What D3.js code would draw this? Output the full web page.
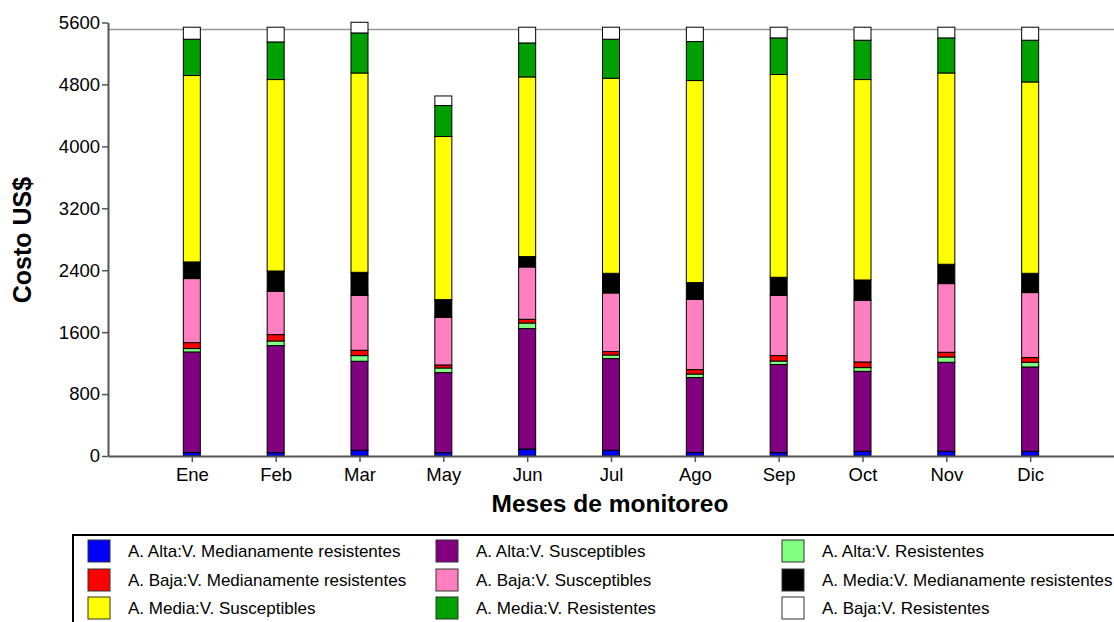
<!DOCTYPE html>
<html>
<head>
<meta charset="utf-8">
<script src="https://cdn.jsdelivr.net/npm/d3@7"></script>
<style>
  body { margin: 0; background: #fff; }
  text { font-family: "Liberation Sans", Arial, sans-serif; }
</style>
</head>
<body>
<script>
// months on the x axis
var meses = ["Ene", "Feb", "Mar", "May", "Jun", "Jul", "Ago", "Sep", "Oct", "Nov", "Dic"];

// series, bottom to top of the stack
var series = [
  "A. Alta:V. Medianamente resistentes",
  "A. Alta:V. Susceptibles",
  "A. Alta:V. Resistentes",
  "A. Baja:V. Medianamente resistentes",
  "A. Baja:V. Susceptibles",
  "A. Media:V. Medianamente resistentes",
  "A. Media:V. Susceptibles",
  "A. Media:V. Resistentes",
  "A. Baja:V. Resistentes"
];
var colores = ["#0000ff", "#800080", "#80ff80", "#ff0000", "#ff80c0", "#000000", "#ffff00", "#00a000", "#ffffff"];

// cost per month for each series (US$)
var altaMedRes  = [44, 44, 74, 44, 90, 74, 44, 44, 61, 61, 61];
var altaSusc    = [1300, 1382, 1150, 1033, 1556, 1184, 969, 1137, 1033, 1150, 1089];
var altaRes     = [44, 60, 73, 60, 72, 47, 46, 46, 48, 68, 61];
var bajaMedRes  = [77, 82, 69, 39, 48, 44, 57, 70, 73, 61, 60];
var bajaSusc    = [827, 560, 710, 616, 676, 757, 909, 779, 797, 887, 840];
var mediaMedRes = [215, 262, 297, 228, 134, 254, 215, 233, 262, 250, 249];
var mediaSusc   = [2408, 2473, 2575, 2107, 2321, 2520, 2610, 2619, 2589, 2471, 2472];
var mediaRes    = [469, 486, 517, 400, 439, 504, 504, 473, 508, 453, 539];
var bajaRes     = [155, 190, 138, 124, 203, 155, 185, 138, 168, 138, 168];

var yTicks = [0, 800, 1600, 2400, 3200, 4000, 4800, 5600];
var lineaRef = 5510;

var valores = [altaMedRes, altaSusc, altaRes, bajaMedRes, bajaSusc, mediaMedRes, mediaSusc, mediaRes, bajaRes];

var width = 1114, height = 622;
var margin = {left: 108, top: 22.5, bottom: 456, right: 1114};

var svg = d3.select("body").append("svg")
    .attr("width", width)
    .attr("height", height);

var x = d3.scalePoint()
    .domain(meses)
    .range([margin.left, margin.right])
    .padding(1);

var y = d3.scaleLinear()
    .domain([0, 5600])
    .range([margin.bottom, margin.top]);

// build table for stacking
var tabla = meses.map(function(m, i) {
  var row = {mes: m};
  series.forEach(function(s, j) { row[s] = valores[j][i]; });
  return row;
});

var stack = d3.stack().keys(series)(tabla);

// reference line
svg.append("line")
    .attr("x1", margin.left).attr("x2", margin.right)
    .attr("y1", y(lineaRef)).attr("y2", y(lineaRef))
    .attr("stroke", "#999")
    .attr("stroke-width", 1.5);

var barW = 17;

svg.selectAll(".serie")
    .data(stack)
  .enter().append("g")
    .attr("class", "serie")
    .attr("fill", function(d, i) { return colores[i]; })
  .selectAll("rect")
    .data(function(d) { return d; })
  .enter().append("rect")
    .attr("x", function(d) { return x(d.data.mes) - barW / 2; })
    .attr("width", barW)
    .attr("y", function(d) { return y(d[1]); })
    .attr("height", function(d) { return y(d[0]) - y(d[1]); })
    .attr("stroke", "#000")
    .attr("stroke-width", 1);

// y axis
var yAxis = svg.append("g")
    .attr("transform", "translate(" + margin.left + ",0)")
    .call(d3.axisLeft(y).tickValues(yTicks).tickSize(6).tickSizeOuter(0).tickFormat(d3.format("d")));

// x axis
var xAxis = svg.append("g")
    .attr("transform", "translate(0," + margin.bottom + ")")
    .call(d3.axisBottom(x).tickSize(6).tickSizeOuter(0));

[yAxis, xAxis].forEach(function(a) {
  a.select(".domain").attr("stroke", "#555").attr("stroke-width", 2);
  a.selectAll(".tick line").attr("stroke", "#555").attr("stroke-width", 1.5);
  a.selectAll(".tick text")
      .attr("fill", "#000")
      .style("font-family", "'Liberation Sans', Arial, sans-serif")
      .style("font-size", "18.5px");
});
yAxis.selectAll(".tick text").attr("x", -8);
xAxis.selectAll(".tick text").attr("y", 12);

// axis titles
svg.append("text")
    .attr("transform", "translate(31,240) rotate(-90)")
    .attr("text-anchor", "middle")
    .style("font-size", "25px")
    .style("font-weight", "bold")
    .text("Costo US$");

svg.append("text")
    .attr("x", 610)
    .attr("y", 512)
    .attr("text-anchor", "middle")
    .style("font-size", "24.5px")
    .style("font-weight", "bold")
    .text("Meses de monitoreo");

// legend
svg.append("rect")
    .attr("x", 73).attr("y", 535)
    .attr("width", 1100).attr("height", 120)
    .attr("fill", "none")
    .attr("stroke", "#000")
    .attr("stroke-width", 2);

var colX = [88, 436, 782];
var rowY = [551, 580, 608];

var items = svg.selectAll(".leg")
    .data(series)
  .enter().append("g")
    .attr("class", "leg")
    .attr("transform", function(d, i) {
      return "translate(" + colX[i % 3] + "," + rowY[Math.floor(i / 3)] + ")";
    });

items.append("rect")
    .attr("x", 0).attr("y", -11)
    .attr("width", 22).attr("height", 22)
    .attr("fill", function(d, i) { return colores[i]; })
    .attr("stroke", "#333")
    .attr("stroke-width", 1);

items.append("text")
    .attr("x", 40)
    .attr("y", 6)
    .style("font-size", "17px")
    .text(function(d) { return d; });
</script>
</body>
</html>
